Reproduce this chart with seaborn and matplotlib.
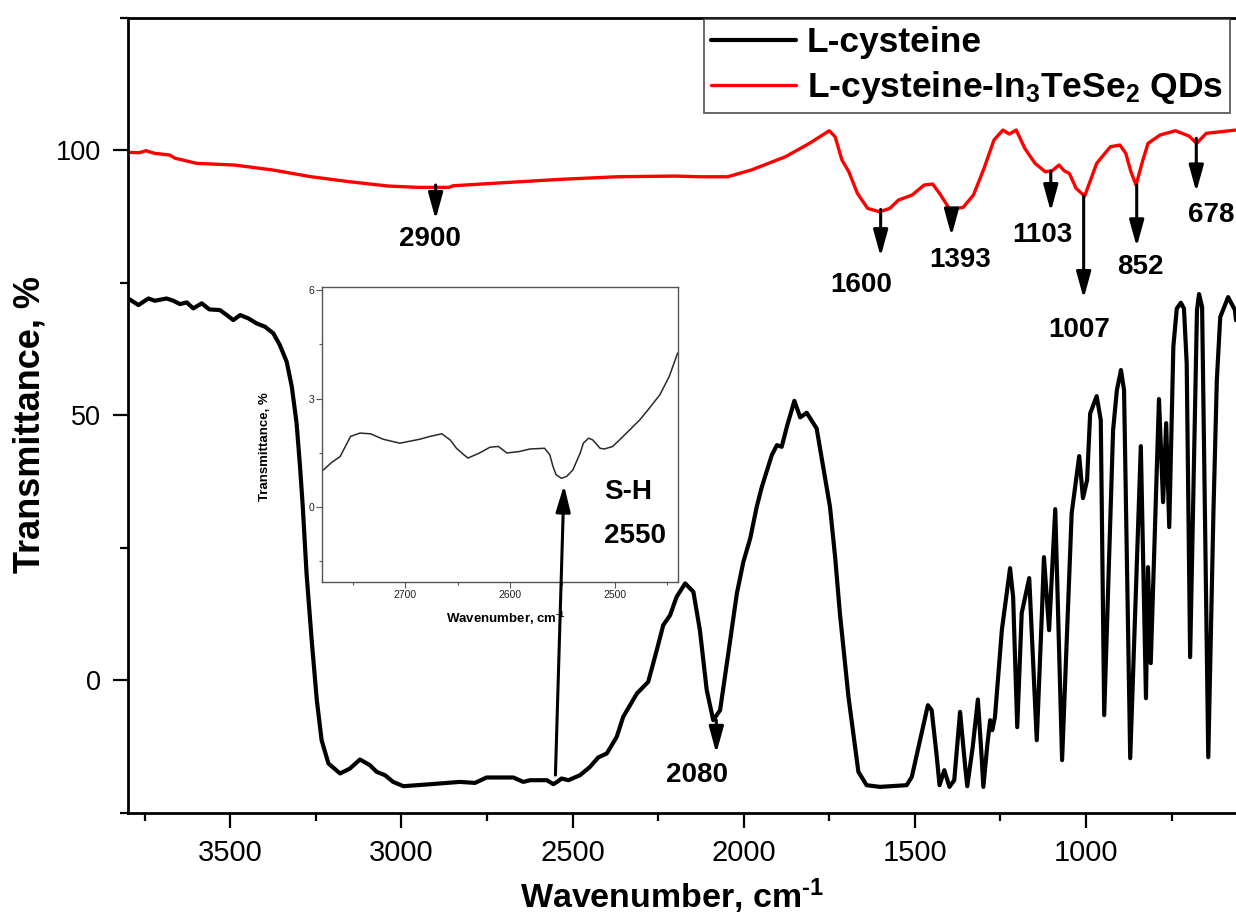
import matplotlib
matplotlib.use("Agg")
import matplotlib.pyplot as plt
from matplotlib.lines import Line2D
from matplotlib.ticker import MultipleLocator
import seaborn as sns

# ---- L-cysteine spectrum -------------------------------------------------
cys_wavenumber = [3798, 3768, 3739, 3720, 3686, 3666, 3647, 3627, 3608, 3583,
                  3561, 3530, 3510, 3491, 3471, 3447, 3423, 3398, 3374, 3355,
                  3335, 3320, 3306, 3296, 3288, 3277, 3262, 3247, 3233, 3213,
                  3179, 3150, 3121, 3092, 3072, 3048, 3024, 2994, 2926, 2829,
                  2785, 2751, 2673, 2644, 2624, 2575, 2556, 2542, 2532, 2512,
                  2478, 2449, 2425, 2400, 2371, 2352, 2312, 2279, 2254, 2235,
                  2215, 2196, 2171, 2147, 2128, 2108, 2089, 2069, 2045, 2020,
                  2001, 1981, 1962, 1947, 1918, 1903, 1889, 1874, 1852, 1835,
                  1816, 1787, 1748, 1733, 1719, 1694, 1665, 1641, 1602, 1524,
                  1509, 1485, 1462, 1451, 1436, 1428, 1414, 1399, 1385, 1368,
                  1353, 1347, 1331, 1316, 1305, 1300, 1288, 1280, 1274, 1266,
                  1246, 1222, 1213, 1201, 1188, 1166, 1144, 1129, 1123, 1108,
                  1090, 1070, 1042, 1020, 1009, 997, 988, 969, 957, 947,
                  921, 910, 898, 889, 871, 840, 825, 819, 811, 787,
                  775, 766, 757, 745, 735, 723, 714, 706, 696, 676,
                  670, 661, 643, 628, 618, 608, 585, 565, 562]
cys_transmittance = [72.0, 70.75, 72.0, 71.57, 72.0, 71.57, 70.94, 71.26, 70.13, 71.08,
                     69.94, 69.81, 68.87, 67.92, 68.87, 68.25, 67.3, 66.66, 65.42, 63.21,
                     60.06, 55.34, 48.43, 40.25, 32.7, 20.13, 7.55, -3.77, -11.32, -15.72,
                     -17.6, -16.66, -14.96, -16.04, -17.3, -17.92, -19.19, -20.0, -19.68, -19.19,
                     -19.38, -18.36, -18.36, -19.19, -18.87, -18.87, -19.62, -19.06, -18.55, -18.87,
                     -17.92, -16.36, -14.58, -13.83, -10.7, -6.92, -2.51, -0.32, 5.66, 10.38,
                     12.26, 15.72, 18.25, 16.66, 9.43, -1.89, -7.55, -5.66, 5.04, 16.36,
                     22.32, 26.74, 32.7, 36.47, 42.45, 44.34, 44.02, 47.79, 52.7, 49.57,
                     50.43, 47.49, 32.7, 23.26, 12.58, -3.15, -17.3, -19.81, -20.13, -19.81,
                     -18.25, -11.32, -4.72, -5.66, -14.47, -19.81, -16.98, -20.13, -18.87, -5.98,
                     -16.36, -20.0, -12.58, -3.64, -14.47, -20.13, -11.94, -7.55, -9.43, -6.92,
                     9.43, 21.13, 15.66, -8.87, 12.64, 19.25, -11.32, 12.64, 23.21, 9.43,
                     32.26, -15.09, 31.51, 42.26, 34.34, 37.74, 50.3, 53.58, 49.06, -6.6,
                     47.17, 54.7, 58.49, 54.7, -14.72, 44.15, -3.4, 21.32, 3.21, 53.02,
                     33.58, 48.49, 28.87, 62.9, 70.1, 71.19, 70.1, 59.75, 4.34, 69.8,
                     72.83, 70.4, -14.53, 31.45, 56.6, 68.5, 72.26, 69.8, 67.9]

# ---- L-cysteine capped In3TeSe2 quantum dots -------------------------------
qd_wavenumber = [3799, 3766, 3746, 3721, 3677, 3660, 3638, 3598, 3487, 3375,
                 3263, 3151, 3039, 2950, 2861, 2849, 2704, 2536, 2369, 2201,
                 2128, 2047, 1978, 1878, 1808, 1750, 1733, 1713, 1693, 1668,
                 1638, 1603, 1573, 1548, 1508, 1473, 1448, 1428, 1398, 1359,
                 1329, 1298, 1269, 1243, 1224, 1204, 1179, 1149, 1119, 1099,
                 1079, 1064, 1049, 1029, 1004, 969, 929, 901, 884, 869,
                 854, 834, 819, 784, 739, 699, 677, 649, 562]
qd_transmittance = [99.57, 99.49, 99.87, 99.38, 99.06, 98.43, 98.11, 97.49, 97.17, 96.23,
                    94.96, 94.02, 93.21, 92.96, 92.96, 93.26, 93.83, 94.47, 94.96, 95.09,
                    94.96, 94.96, 96.23, 98.74, 101.26, 103.64, 102.51, 98.11, 95.91, 91.83,
                    89.0, 88.36, 89.0, 90.57, 91.51, 93.4, 93.58, 91.83, 88.81, 89.19,
                    91.51, 96.55, 101.89, 103.77, 103.02, 103.77, 100.32, 97.49, 95.91, 96.09,
                    97.17, 96.09, 95.6, 92.77, 91.32, 97.49, 100.62, 100.94, 99.38, 95.91,
                    93.4, 98.11, 101.26, 102.83, 103.64, 102.64, 101.26, 103.15, 103.77]

# ---- S-H stretching region of L-cysteine (expanded) ------------------------
sh_wavenumber = [2778, 2770, 2762, 2752, 2743, 2733, 2721, 2705, 2686, 2676,
                 2665, 2657, 2651, 2644, 2640, 2629, 2619, 2611, 2603, 2591,
                 2581, 2567, 2562, 2559, 2556, 2551, 2546, 2540, 2533, 2530,
                 2525, 2521, 2514, 2510, 2502, 2492, 2476, 2467, 2457, 2448, 2440]
sh_transmittance = [1.03, 1.24, 1.40, 1.96, 2.05, 2.03, 1.88, 1.77, 1.88, 1.96,
                    2.03, 1.86, 1.63, 1.45, 1.36, 1.50, 1.66, 1.68, 1.50, 1.54,
                    1.61, 1.63, 1.45, 1.13, 0.90, 0.80, 0.85, 1.03, 1.50, 1.77,
                    1.91, 1.86, 1.63, 1.61, 1.68, 1.96, 2.42, 2.74, 3.11, 3.62, 4.27]

# ---- assigned bands -------------------------------------------------------
qd_bands = [2900, 1600, 1393, 1103, 1007, 852, 678]
cys_bands = [2080]
sh_band = 2550

series_names = ["L-cysteine", "L-cysteine-In$_3$TeSe$_2$ QDs"]
series_colors = ["black", "#ff0000"]

sns.set_style("ticks")
plt.rcParams["font.family"] = ["Liberation Sans", "DejaVu Sans"]
plt.rcParams["mathtext.default"] = "regular"
for key in ["text.color", "axes.labelcolor", "xtick.color", "ytick.color",
            "axes.edgecolor"]:
    plt.rcParams[key] = "black"

W, H = 1236, 917
fig = plt.figure(figsize=(W / 100, H / 100), dpi=100)
fig.patch.set_facecolor("white")

ax_l, ax_r, ax_t, ax_b = 127.5, 1236.0, 17.5, 812.7
ax = fig.add_axes([ax_l / W, 1 - ax_b / H, (ax_r - ax_l) / W, (ax_b - ax_t) / H])
ax.set_facecolor("white")

sns.lineplot(x=cys_wavenumber, y=cys_transmittance, ax=ax, color=series_colors[0],
             lw=3.0, sort=False, estimator=None)
sns.lineplot(x=qd_wavenumber, y=qd_transmittance, ax=ax, color=series_colors[1],
             lw=2.4, sort=False, estimator=None)
for ln in ax.lines:
    ln.set_solid_joinstyle("round")
    ln.set_solid_capstyle("round")

ax.set_xlim(3800, 562)
ax.set_ylim(-25, 125)
ax.xaxis.set_major_locator(MultipleLocator(500))
ax.xaxis.set_minor_locator(MultipleLocator(250))
ax.yaxis.set_major_locator(MultipleLocator(50))
ax.yaxis.set_minor_locator(MultipleLocator(25))

for side in ["left", "bottom", "top"]:
    ax.spines[side].set_linewidth(2.0)
    ax.spines[side].set_color("black")
ax.spines["right"].set_visible(False)
ax.tick_params(which="major", direction="out", length=11, width=1.6, color="black",
               pad=8)
ax.tick_params(which="minor", direction="out", length=6, width=1.6, color="black")
ax.tick_params(axis="x", labelsize=21)
ax.tick_params(axis="y", labelsize=19.5)
ax.tick_params(top=False, right=False, which="both")

ax.set_xlabel("Wavenumber, cm$^{\u20101}$", fontsize=24.5, fontweight="bold")
ax.set_ylabel("Transmittance, %", fontsize=26, fontweight="bold")
ax.xaxis.set_label_coords(0.491, -0.080)
ax.yaxis.set_label_coords(-0.072, 0.488)

# legend
handles = [Line2D([], [], color=series_colors[0], lw=3.0),
           Line2D([], [], color=series_colors[1], lw=2.4)]
leg = ax.legend(handles, series_names, loc="upper right",
                bbox_to_anchor=(0.9943, 0.998), borderaxespad=0,
                prop={"weight": "bold", "size": 25.5}, frameon=True, fancybox=False,
                handlelength=2.4, handletextpad=0.3, labelspacing=0.28,
                borderpad=0.2)
leg.get_frame().set_edgecolor("#333333")
leg.get_frame().set_linewidth(1.3)

# band assignments
arrow_kw = dict(arrowstyle="-|>,head_length=0.8,head_width=0.22", color="black",
                lw=2.2, mutation_scale=20, shrinkA=0, shrinkB=0)
qd_layout = {  # arrow start, arrow end, label x, label y
    2900: (93.4, 86.9, 2916, 83.3),
    1600: (88.8, 79.9, 1658, 74.5),
    1393: (88.8, 83.8, 1368, 79.2),
    1103: (96.0, 88.4, 1129, 84.0),
    1007: (91.3, 72.0, 1019, 66.0),
    852: (93.4, 81.75, 841, 78.0),
    678: (102.2, 92.1, 635, 87.7),
}
for band in qd_bands:
    y0, y1, tx, ty = qd_layout[band]
    ax.annotate("", xy=(band, y1), xytext=(band, y0), arrowprops=arrow_kw)
    ax.text(tx, ty, str(band), ha="center", va="center", fontsize=20,
            fontweight="bold")

cys_layout = {2080: (-7.55, -13.8, 2137, -17.9)}
for band in cys_bands:
    y0, y1, tx, ty = cys_layout[band]
    ax.annotate("", xy=(band, y1), xytext=(band, y0), arrowprops=arrow_kw)
    ax.text(tx, ty, str(band), ha="center", va="center", fontsize=20,
            fontweight="bold")

# expanded S-H region
in_l, in_r, in_t, in_b = 322.3, 677.7, 287.0, 581.7
ax_in = fig.add_axes([in_l / W, 1 - in_b / H, (in_r - in_l) / W, (in_b - in_t) / H])
ax_in.set_facecolor("white")
sns.lineplot(x=sh_wavenumber, y=sh_transmittance, ax=ax_in, color="#2a2a2a",
             lw=1.1, sort=False, estimator=None)
ax_in.set_xlim(2779, 2440)
ax_in.set_ylim(-2.06, 6.09)
ax_in.xaxis.set_major_locator(MultipleLocator(100))
ax_in.xaxis.set_minor_locator(MultipleLocator(50))
ax_in.yaxis.set_major_locator(MultipleLocator(3))
ax_in.yaxis.set_minor_locator(MultipleLocator(1.5))
for side in ax_in.spines.values():
    side.set_linewidth(1.0)
    side.set_color("#555555")
ax_in.tick_params(which="major", direction="out", length=4, width=0.8,
                  color="#555555", labelsize=7.5, pad=2, labelcolor="#222222")
ax_in.tick_params(which="minor", direction="out", length=2.5, width=0.8,
                  color="#555555")
ax_in.set_xlabel("Wavenumber, cm$^{\u20101}$", fontsize=9.5, fontweight="bold")
ax_in.set_ylabel("Transmittance, %", fontsize=9.5, fontweight="bold")
ax_in.xaxis.set_label_coords(0.517, -0.095)
ax_in.yaxis.set_label_coords(-0.143, 0.46)

ax_in.annotate("", xy=(2525, 36.8), xycoords=ax.transData,
               xytext=(sh_band, -17.9), textcoords=ax.transData,
               arrowprops=arrow_kw, annotation_clip=False)
ax_in.text(2339, 35.4, "S-H", transform=ax.transData, ha="center", va="center",
           fontsize=20, fontweight="bold")
ax_in.text(2317, 27.2, str(sh_band), transform=ax.transData, ha="center",
           va="center", fontsize=20, fontweight="bold")

fig.savefig("out.png", dpi=100, facecolor="white")
